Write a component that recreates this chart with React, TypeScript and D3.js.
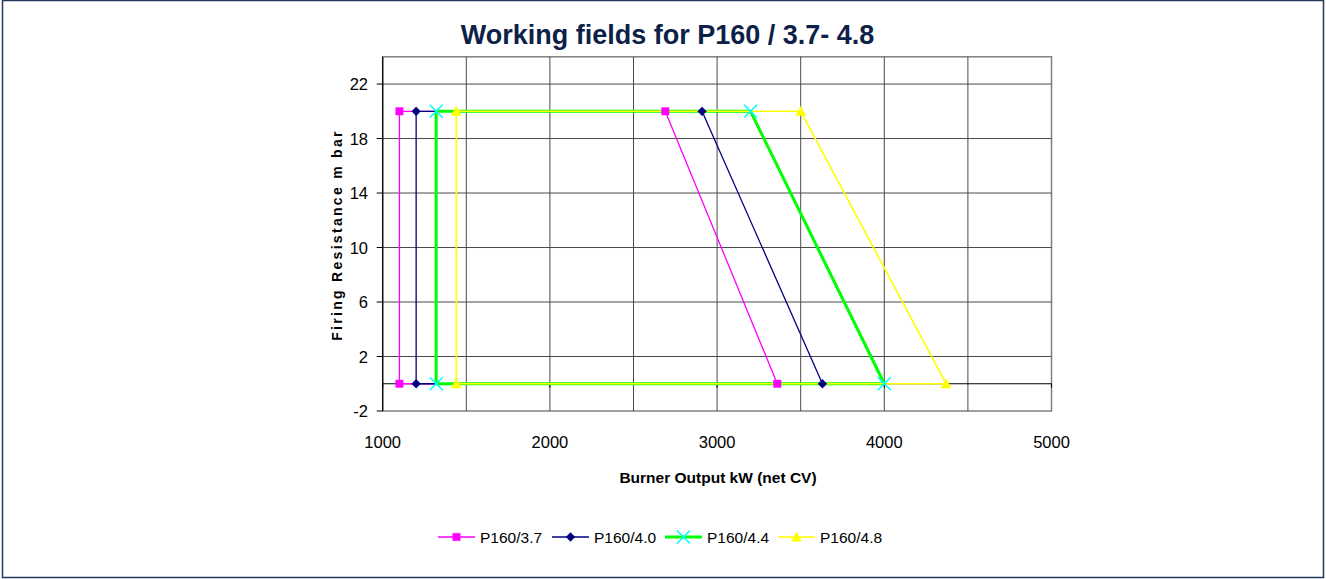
import React from "react";
import * as d3 from "d3";

const seriesNames = ["P160/3.7", "P160/4.0", "P160/4.4", "P160/4.8"];
const minOutput = [1100, 1200, 1320, 1440];
const maxOutputTop = [2690, 2910, 3200, 3500];
const maxOutputBottom = [3360, 3630, 4000, 4370];
const pressureTop = 20;
const pressureBottom = 0;
const xTicks = [1000, 2000, 3000, 4000, 5000];
const xGrid = [1500, 2000, 2500, 3000, 3500, 4000, 4500];
const yTicks = [-2, 2, 6, 10, 14, 18, 22];

const colors = ["#FF00FF", "#000080", "#00FF00", "#FFFF00"];
const markerColors = ["#FF00FF", "#000080", "#00FFFF", "#FFFF00"];
const lineWidths = [1.3, 1.3, 3, 1.6];
const markerTypes = ["square", "diamond", "x", "triangle"];

const W = 1326;
const H = 579;
const PL = 382.7, PR = 1051.5, PT = 56.8, PB = 411;

function markerPath(type: string, cx: number, cy: number): string {
  if (type === "square") {
    const s = 3.7;
    return `M${cx - s},${cy - s}h${2 * s}v${2 * s}h${-2 * s}Z`;
  }
  if (type === "diamond") {
    const s = 4.4;
    return `M${cx},${cy - s}L${cx + s},${cy}L${cx},${cy + s}L${cx - s},${cy}Z`;
  }
  if (type === "triangle") {
    const s = 5;
    return `M${cx},${cy - s}L${cx + s},${cy + s * 0.85}L${cx - s},${cy + s * 0.85}Z`;
  }
  const s = 6.5;
  return `M${cx - s},${cy - s}L${cx + s},${cy + s}M${cx - s},${cy + s}L${cx + s},${cy - s}`;
}

function Marker({ type, cx, cy, color }: { type: string; cx: number; cy: number; color: string }) {
  if (type === "x") {
    return <path d={markerPath(type, cx, cy)} stroke={color} strokeWidth={1.6} fill="none" />;
  }
  return <path d={markerPath(type, cx, cy)} fill={color} stroke={color} strokeWidth={0.5} />;
}

export default function App() {
  const x = d3.scaleLinear().domain([1000, 5000]).range([PL, PR]);
  const y = d3.scaleLinear().domain([-2, 24]).range([PB, PT]);

  const series = seriesNames.map((name, i) => ({
    name,
    points: [
      [minOutput[i], pressureBottom],
      [minOutput[i], pressureTop],
      [maxOutputTop[i], pressureTop],
      [maxOutputBottom[i], pressureBottom],
      [minOutput[i], pressureBottom],
    ] as [number, number][],
  }));

  const line = d3
    .line<[number, number]>()
    .x((d) => x(d[0]))
    .y((d) => y(d[1]));

  const font = "'Liberation Sans', Arial, sans-serif";
  const gridColor = "#4a4a4a";
  const legendX = [438, 552, 665, 778];
  const legendY = 537;

  return (
    <svg
      width={W}
      height={H}
      style={{ position: "absolute", left: 0, top: 0, background: "#fff" }}
      fontFamily={font}
    >
      <rect x={0} y={0} width={W} height={H} fill="#fff" />
      <rect x={2.5} y={0.5} width={1321} height={577} fill="none" stroke="#22385e" strokeWidth={1.5} />

      <text x={667.5} y={44} textAnchor="middle" fontSize={27} fontWeight="bold" fill="#0d2148">
        Working fields for P160 / 3.7- 4.8
      </text>

      {/* plot border */}
      <rect x={PL} y={PT} width={PR - PL} height={PB - PT} fill="#fff" stroke="#808080" strokeWidth={1.5} />

      {/* grid */}
      {xGrid.map((v) => (
        <line key={"gx" + v} x1={x(v)} x2={x(v)} y1={PT} y2={PB} stroke={gridColor} strokeWidth={1} />
      ))}
      {yTicks
        .filter((v) => v > -2)
        .map((v) => (
          <line key={"gy" + v} x1={PL} x2={PR} y1={y(v)} y2={y(v)} stroke={gridColor} strokeWidth={1} />
        ))}

      {/* y axis */}
      <line x1={PL} x2={PL} y1={PT} y2={PB} stroke="#000" strokeWidth={1.2} />
      {yTicks.map((v) => (
        <g key={"yt" + v}>
          <line x1={PL - 6} x2={PL} y1={y(v)} y2={y(v)} stroke="#000" strokeWidth={1} />
          <text x={368} y={y(v) + 6} textAnchor="end" fontSize={16.5} fill="#000">
            {v}
          </text>
        </g>
      ))}

      {/* x axis at 0 */}
      <line x1={PL} x2={PR} y1={y(0)} y2={y(0)} stroke="#000" strokeWidth={1.2} />
      {xTicks.map((v) => (
        <g key={"xt" + v}>
          <line x1={x(v)} x2={x(v)} y1={y(0)} y2={y(0) + 4} stroke="#000" strokeWidth={1} />
          <text x={x(v)} y={448} textAnchor="middle" fontSize={16.5} fill="#000">
            {v}
          </text>
        </g>
      ))}

      {/* axis titles */}
      <text x={718} y={483} textAnchor="middle" fontSize={15.5} fontWeight="bold" fill="#000">
        Burner Output kW (net CV)
      </text>
      <text
        transform={`translate(342,235) rotate(-90)`}
        textAnchor="middle"
        fontSize={14}
        fontWeight="bold"
        letterSpacing={2.3}
        fill="#000"
      >
        Firing Resistance m bar
      </text>

      {/* lines */}
      {series.map((s, i) => (
        <path
          key={"l" + s.name}
          d={line(s.points) || ""}
          fill="none"
          stroke={colors[i]}
          strokeWidth={lineWidths[i]}
          strokeLinejoin="round"
        />
      ))}
      {/* markers */}
      {series.map((s, i) =>
        s.points.slice(0, 4).map((p, j) => (
          <Marker key={"m" + i + "-" + j} type={markerTypes[i]} cx={x(p[0])} cy={y(p[1])} color={markerColors[i]} />
        ))
      )}

      {/* legend */}
      {seriesNames.map((name, i) => (
        <g key={"lg" + name}>
          <line
            x1={legendX[i]}
            x2={legendX[i] + 37}
            y1={legendY}
            y2={legendY}
            stroke={colors[i]}
            strokeWidth={lineWidths[i]}
          />
          <Marker type={markerTypes[i]} cx={legendX[i] + 18.5} cy={legendY} color={markerColors[i]} />
          <text x={legendX[i] + 42} y={legendY + 6} fontSize={15.5} fill="#000">
            {name}
          </text>
        </g>
      ))}
    </svg>
  );
}
